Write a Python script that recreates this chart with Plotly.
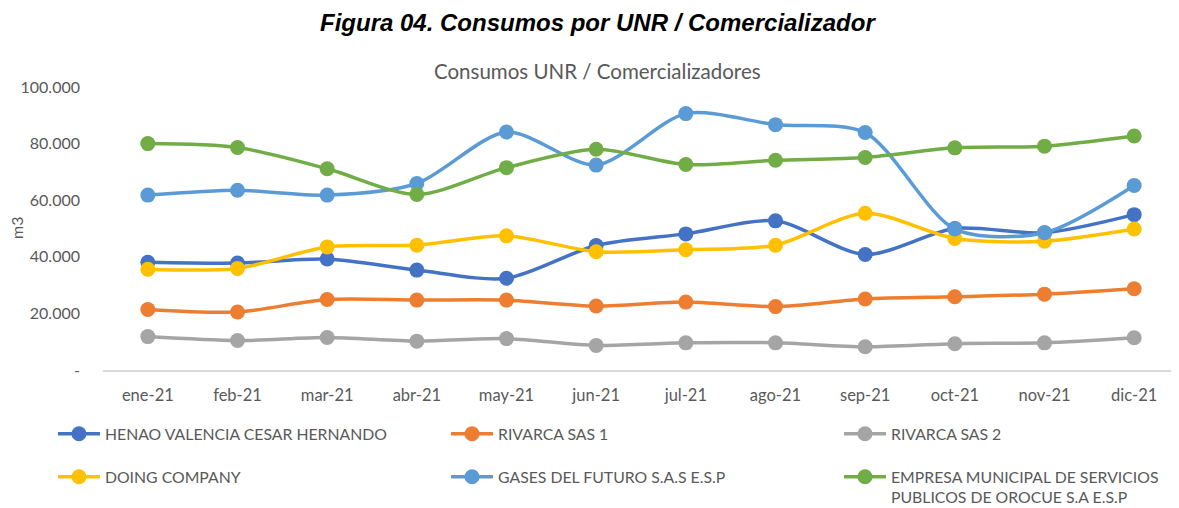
import plotly.graph_objects as go

months = ["ene-21", "feb-21", "mar-21", "abr-21", "may-21", "jun-21",
          "jul-21", "ago-21", "sep-21", "oct-21", "nov-21", "dic-21"]

henao = [38100, 37800, 39200, 35300, 32400, 44000, 48100, 52700, 40800, 50000, 48500, 54900]
rivarca1 = [21400, 20500, 24900, 24700, 24700, 22600, 24000, 22400, 25100, 25900, 26800, 28700]
rivarca2 = [11800, 10400, 11500, 10200, 11100, 8700, 9600, 9600, 8200, 9300, 9600, 11400]
doing = [35600, 35900, 43500, 44100, 47400, 41800, 42500, 44100, 55400, 46500, 45500, 49800]
gases = [61800, 63500, 61800, 65900, 84100, 72400, 90600, 86700, 83900, 49800, 48500, 65200]
empresa = [80000, 78600, 71100, 62000, 71500, 78000, 72600, 74100, 75100, 78500, 79100, 82700]

names = ["HENAO VALENCIA CESAR HERNANDO", "RIVARCA SAS 1", "RIVARCA SAS 2",
         "DOING COMPANY", "GASES DEL FUTURO S.A.S E.S.P",
         "EMPRESA MUNICIPAL DE SERVICIOS<br>PUBLICOS DE OROCUE S.A E.S.P"]
series = [henao, rivarca1, rivarca2, doing, gases, empresa]
colors = ["#4472C4", "#ED7D31", "#A5A5A5", "#FFC000", "#5B9BD5", "#70AD47"]

y_ticks = [0, 20000, 40000, 60000, 80000, 100000]
y_ticktext = ["-", "20.000", "40.000", "60.000", "80.000", "100.000"]

legend_ids = ["legend", "legend2", "legend3", "legend4", "legend5", "legend6"]
legend_x = [-0.0465, 0.3188, 0.684, -0.0465, 0.3188, 0.684]
legend_y = [-0.166, -0.166, -0.166, -0.318, -0.318, -0.318]

fig = go.Figure()
for i, (n, s, c) in enumerate(zip(names, series, colors)):
    fig.add_trace(go.Scatter(
        x=months, y=s, name=n, mode="lines+markers",
        line=dict(color=c, width=3.5, shape="spline", smoothing=0.8),
        marker=dict(color=c, size=15),
        legend=legend_ids[i],
    ))

font_main = "Lato, 'Open Sans', sans-serif"
legends = {}
for i, lid in enumerate(legend_ids):
    legends[lid] = dict(
        orientation="v", xanchor="left", yanchor="top",
        x=legend_x[i], y=legend_y[i],
        font=dict(family=font_main, size=15.8, color="#595959"),
        bgcolor="rgba(0,0,0,0)", itemclick=False,
        valign="top", itemwidth=42,
    )

fig.update_layout(
    width=1171, height=500,
    margin=dict(l=95, r=0, t=79, b=138, autoexpand=False),
    paper_bgcolor="white", plot_bgcolor="white",
    showlegend=True,
    **legends,
    xaxis=dict(
        type="category", range=[-0.5, 11.5],
        showline=True, linecolor="#D9D9D9", linewidth=1.5,
        showgrid=False, ticks="", zeroline=False,
        ticklabelstandoff=9,
        tickfont=dict(family=font_main, size=16.5, color="#595959"),
    ),
    yaxis=dict(
        range=[0, 100000], tickvals=y_ticks, ticktext=y_ticktext,
        showgrid=False, zeroline=False, showline=False, ticks="",
        ticklabelstandoff=22,
        tickfont=dict(family=font_main, size=16, color="#595959"),
    ),
    annotations=[
        dict(text="<b><i>Figura 04. Consumos por UNR / Comercializador</i></b>",
             xref="paper", yref="paper", x=0.46, y=1.0, yshift=65,
             showarrow=False, xanchor="center", yanchor="middle",
             font=dict(family="Liberation Sans, Arial, sans-serif", size=24, color="black")),
        dict(text="Consumos UNR / Comercializadores",
             xref="paper", yref="paper", x=0.46, y=1.0, yshift=16,
             showarrow=False, xanchor="center", yanchor="middle",
             font=dict(family=font_main, size=20.5, color="#595959")),
        dict(text="m3", textangle=-90,
             xref="paper", yref="paper", x=0.0, y=0.502, xshift=-86,
             showarrow=False, xanchor="center", yanchor="middle",
             font=dict(family=font_main, size=16, color="#595959")),
    ],
)

fig.write_html("out.html")
